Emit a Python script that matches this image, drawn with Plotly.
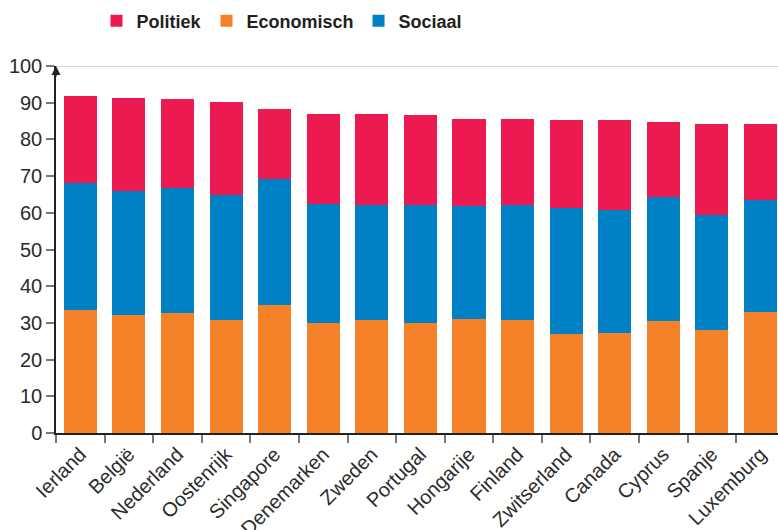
import plotly.graph_objects as go

# Countries, ordered by total score
countries = ["Ierland", "België", "Nederland", "Oostenrijk", "Singapore", "Denemarken",
             "Zweden", "Portugal", "Hongarije", "Finland", "Zwitserland", "Canada",
             "Cyprus", "Spanje", "Luxemburg"]

# Component scores (stacked: economisch at the bottom, then sociaal, then politiek)
economisch = [33.5, 32.1, 32.6, 30.7, 34.8, 29.9, 30.8, 29.9, 31.0, 30.8, 26.9, 27.2, 30.5, 28.1, 33.0]
sociaal = [34.6, 33.8, 34.2, 34.1, 34.4, 32.6, 31.3, 32.2, 30.9, 31.3, 34.5, 33.6, 33.8, 31.3, 30.5]
politiek = [23.7, 25.4, 24.2, 25.4, 19.1, 24.4, 24.8, 24.5, 23.6, 23.4, 23.9, 24.5, 20.4, 24.8, 20.7]

RED = "#EC1A50"
ORANGE = "#F58229"
BLUE = "#0081C6"
TEXT = "#2B2B2B"
FONT = "Liberation Sans, Arial, sans-serif"

fig = go.Figure()
fig.add_trace(go.Bar(x=countries, y=economisch, name="Economisch", marker_color=ORANGE,
                     marker_line_width=0, legendrank=2))
fig.add_trace(go.Bar(x=countries, y=sociaal, name="Sociaal", marker_color=BLUE,
                     marker_line_width=0, legendrank=3))
fig.add_trace(go.Bar(x=countries, y=politiek, name="Politiek", marker_color=RED,
                     marker_line_width=0, legendrank=1))

fig.update_layout(
    barmode="stack",
    bargap=0.32,
    width=778, height=530,
    margin=dict(l=56, r=0, t=66, b=97),
    paper_bgcolor="white",
    plot_bgcolor="white",
    font=dict(family=FONT, color=TEXT),
    showlegend=True,
    legend=dict(
        orientation="h",
        x=282 / 778, xref="container", xanchor="center",
        y=0.995, yref="container", yanchor="top",
        font=dict(family=FONT, size=18, color="#231F20", weight="bold"),
        itemsizing="constant",
        traceorder="normal",
    ),
    xaxis=dict(
        type="category",
        range=[-0.5, 14.36],
        automargin=False,
        showline=True, linecolor="#222222", linewidth=1.5,
        ticks="outside", tickson="boundaries", ticklen=8, tickcolor="#777777", tickwidth=1.5,
        tickangle=-45,
        tickfont=dict(family=FONT, size=20, color=TEXT),
        showgrid=False,
    ),
    yaxis=dict(
        range=[0, 100],
        automargin=False,
        tickvals=[0, 10, 20, 30, 40, 50, 60, 70, 80, 90, 100],
        showline=True, linecolor="#222222", linewidth=1.5,
        ticks="outside", ticklen=8, tickcolor="#777777", tickwidth=1.5,
        tickfont=dict(family=FONT, size=20, color=TEXT),
        showgrid=False,
        zeroline=False,
    ),
)

# Thin reference line at the top of the scale
fig.add_hline(y=100, line_color="#AAAAAA", line_width=1)

# Arrowhead at the top of the value axis
fig.add_annotation(x=0, xref="paper", y=100, yref="y", ax=0, ay=12,
                   showarrow=True, arrowhead=2, arrowsize=1.2, arrowwidth=1.5,
                   arrowcolor="#222222", text="")

fig.write_html("out.html")
